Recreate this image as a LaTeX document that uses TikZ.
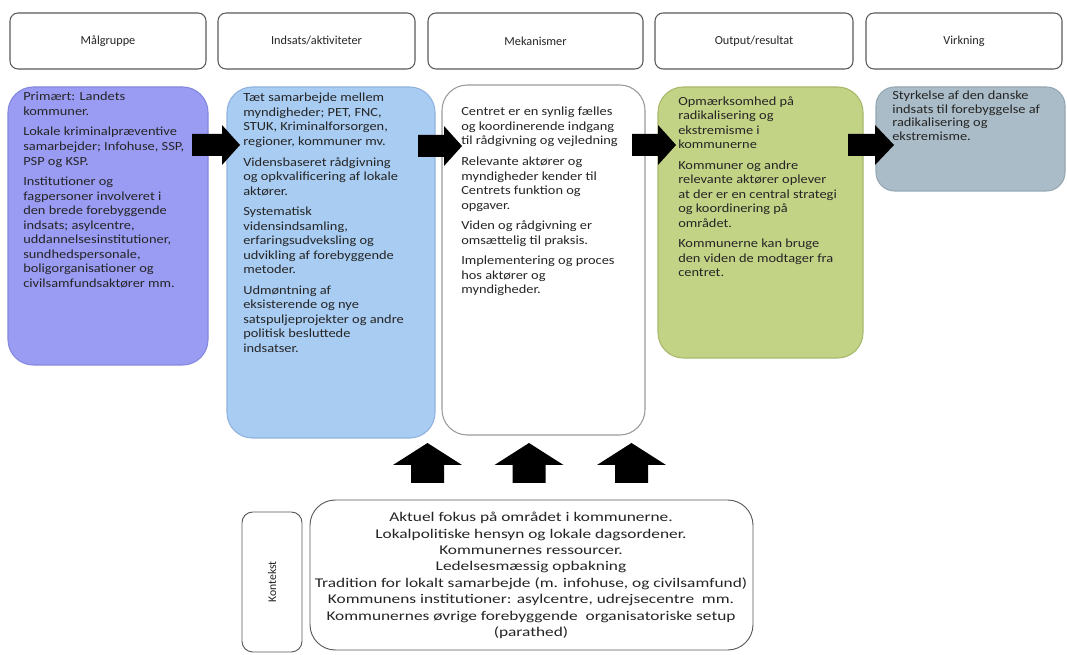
\documentclass[tikz,border=0pt]{standalone}
\usepackage{fontspec}
\setmainfont{Carlito}
\newfontfamily\bodyf[FakeStretch=1.16]{Carlito}
\newfontfamily\botf[FakeStretch=1.3]{Carlito}
\definecolor{txtc}{HTML}{252525}
\definecolor{hdrline}{HTML}{5A5A5A}
\definecolor{purp}{HTML}{9A9CF4}
\definecolor{purpl}{HTML}{8587DC}
\definecolor{lblue}{HTML}{A9CCF2}
\definecolor{lbluel}{HTML}{8FB3DE}
\definecolor{wline}{HTML}{9A9A9A}
\definecolor{grn}{HTML}{C3D386}
\definecolor{grnl}{HTML}{A8B86C}
\definecolor{gblu}{HTML}{AABCC7}
\definecolor{gblul}{HTML}{94A7B2}
\newcommand\bx[7]{\node[#2, minimum width={(#5-#3)*0.75pt}, minimum height={(#6-#4)*0.75pt}] (#1) at ({(#3+#5)/2},{(#4+#6)/2}) {#7};}
\newcommand\rarr[4]{\fill[black] (#1,#4-11) -- (#2,#4-11) -- (#2,#4-20) -- (#3,#4) -- (#2,#4+20) -- (#2,#4+11) -- (#1,#4+11) -- cycle;}
\newcommand\uarr[1]{\fill[black] (#1-16.5,483) -- (#1-16.5,465) -- (#1-34.5,465) -- (#1,443) -- (#1+34.5,465) -- (#1+16.5,465) -- (#1+16.5,483) -- cycle;}
\begin{document}
\begin{tikzpicture}[x=0.75pt,y=-0.75pt,
  hdr/.style={draw=hdrline, line width=0.8pt, rounded corners=6pt, inner sep=0pt, outer sep=0pt, text=txtc, font=\fontsize{9.2pt}{11pt}\selectfont},
  cbox/.style={line width=0.8pt, rounded corners=19pt, inner sep=0pt, outer sep=0pt},
  body/.style={inner sep=0pt, anchor=north west, align=left, text=txtc, font=\bodyf\fontsize{9.3pt}{10.9pt}\selectfont},
  bot/.style={inner sep=0pt, anchor=north, align=center, text=txtc, font=\botf\fontsize{10pt}{12.3pt}\selectfont}]
\useasboundingbox (0,0) rectangle (1067,655);
\fill[white] (0,0) rectangle (1067,655);
% header row
\bx{h1}{hdr}{10}{13}{206}{69}{Målgruppe}
\bx{h2}{hdr}{218}{13}{415}{69}{Indsats/aktiviteter}
\bx{h3}{hdr}{428}{13}{643}{69}{Mekanismer}
\bx{h4}{hdr}{655}{13}{853}{69}{Output/resultat}
\bx{h5}{hdr}{866}{13}{1062}{69}{Virkning}
% content boxes
\bx{b1}{cbox, fill=purp, draw=purpl}{8}{87}{208}{365}{}
\bx{b2}{cbox, fill=lblue, draw=lbluel}{227}{87}{435}{438}{}
\bx{b3}{cbox, fill=white, draw=wline}{442}{85}{645}{435}{}
\bx{b4}{cbox, fill=grn, draw=grnl}{658}{87}{863}{358}{}
\bx{b5}{cbox, rounded corners=14pt, fill=gblu, draw=gblul}{876}{87}{1065}{191}{}
% texts
\node[body] (t1) at (23,92) {Primært: Landets\\kommuner.\\[4.5pt]Lokale kriminalpræventive\\samarbejder; Infohuse, SSP,\\PSP og KSP.\\[4.5pt]Institutioner og\\fagpersoner involveret i\\den brede forebyggende\\indsats; asylcentre,\\uddannelsesinstitutioner,\\sundhedspersonale,\\boligorganisationer og\\civilsamfundsaktører mm.};
\node[body] (t2) at (243,93) {Tæt samarbejde mellem\\myndigheder; PET, FNC,\\STUK, Kriminalforsorgen,\\regioner, kommuner mv.\\[4.5pt]Vidensbaseret rådgivning\\og opkvalificering af lokale\\aktører.\\[4.5pt]Systematisk\\vidensindsamling,\\erfaringsudveksling og\\udvikling af forebyggende\\metoder.\\[4.5pt]Udmøntning af\\eksisterende og nye\\satspuljeprojekter og andre\\politisk besluttede\\indsatser.};
\node[body] (t3) at (461,107) {Centret er en synlig fælles\\og koordinerende indgang\\til rådgivning og vejledning\\[4.5pt]Relevante aktører og\\myndigheder kender til\\Centrets funktion og\\opgaver.\\[4.5pt]Viden og rådgivning er\\omsættelig til praksis.\\[4.5pt]Implementering og proces\\hos aktører og\\myndigheder.};
\node[body] (t4) at (678,96) {Opmærksomhed på\\radikalisering og\\ekstremisme i\\kommunerne\\[4.5pt]Kommuner og andre\\relevante aktører oplever\\at der er en central strategi\\og koordinering på\\området.\\[4.5pt]Kommunerne kan bruge\\den viden de modtager fra\\centret.};
\node[body, font=\bodyf\fontsize{9.3pt}{10.1pt}\selectfont] (t5) at (892,91) {Styrkelse af den danske\\indsats til forebyggelse af\\radikalisering og\\ekstremisme.};
% right arrows
\rarr{192}{222}{240}{145}
\rarr{418}{444}{462}{146}
\rarr{632}{658}{676}{145}
\rarr{848}{875}{894}{145}
% up arrows
\uarr{427.5}
\uarr{529}
\uarr{631.5}
% context
\bx{k1}{draw=hdrline, line width=0.7pt, rounded corners=8pt, inner sep=0pt}{242}{512}{302}{652}{}
\node[rotate=90, text=txtc, font=\fontsize{8.8pt}{10pt}\selectfont, inner sep=0pt] (kt) at (k1.center) {Kontekst};
\bx{k2}{draw=hdrline, line width=0.7pt, rounded corners=19pt, inner sep=0pt}{310}{500}{753}{650}{}
\node[bot] (bt) at (531,512) {Aktuel fokus på området i kommunerne.\\Lokalpolitiske hensyn og lokale dagsordener.\\Kommunernes ressourcer.\\Ledelsesmæssig opbakning\\Tradition for lokalt samarbejde (m. infohuse, og civilsamfund)\\Kommunens institutioner: asylcentre, udrejsecentre\ \ mm.\\Kommunernes øvrige forebyggende\ \ organisatoriske setup\\(parathed)};
\end{tikzpicture}
\end{document}
